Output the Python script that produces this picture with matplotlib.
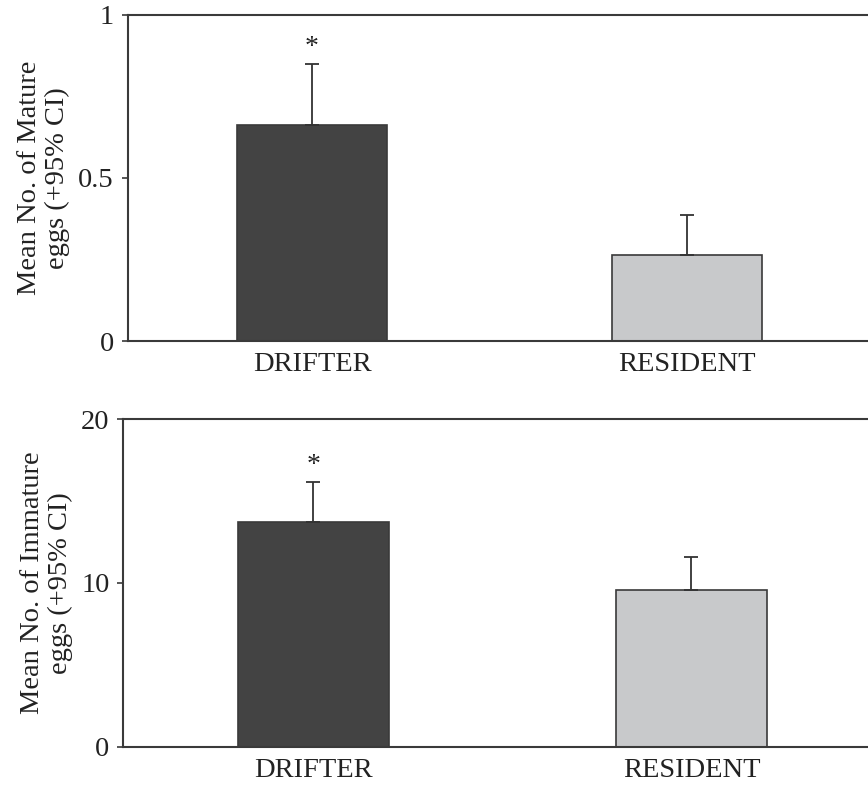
import matplotlib
matplotlib.use("Agg")
import matplotlib.pyplot as plt

plt.rcParams['font.family'] = ['Liberation Serif', 'DejaVu Serif']

categories = ["DRIFTER", "RESIDENT"]
mature_means = [0.663, 0.264]
mature_ci_upper = [0.85, 0.387]
immature_means = [13.71, 9.55]
immature_ci_upper = [16.19, 11.57]
significance = ["*", ""]

bar_colors = ["#434343", "#c8c9cb"]
edge_color = "#3a3a3a"
axis_color = "#3a3a3a"

fig = plt.figure(figsize=(8.68, 7.85), dpi=100)

panels = [
    dict(rect=[0.1471, 0.5656, 0.8529, 0.4153], means=mature_means, upper=mature_ci_upper,
         ylim=(0, 1), yticks=[0, 0.5, 1], yticklabels=["0", "0.5", "1"],
         xlim=(-0.4915, 1.483), ylabel="Mean No. of Mature\neggs (+95% CI)", star_off=0.05),
    dict(rect=[0.1421, 0.0488, 0.8579, 0.4171], means=immature_means, upper=immature_ci_upper,
         ylim=(0, 20), yticks=[0, 10, 20], yticklabels=["0", "10", "20"],
         xlim=(-0.503, 1.467), ylabel="Mean No. of Immature\neggs (+95% CI)", star_off=1.0),
]

for p in panels:
    ax = fig.add_axes(p["rect"])
    x = list(range(len(categories)))
    err_up = [u - m for u, m in zip(p["upper"], p["means"])]
    ax.bar(x, p["means"], width=0.40, color=bar_colors, edgecolor=edge_color,
           linewidth=1.2, zorder=2)
    ax.errorbar(x, p["means"], yerr=[[0] * len(x), err_up], fmt="none",
                ecolor="#333333", elinewidth=1.3, capsize=5, capthick=1.3, zorder=3)
    for xi, u, s in zip(x, p["upper"], significance):
        if s:
            ax.text(xi, u + p["star_off"], s, ha="center", va="center",
                    fontsize=20, color="#222222")
    ax.set_xlim(*p["xlim"])
    ax.set_ylim(*p["ylim"])
    ax.set_yticks(p["yticks"])
    ax.set_yticklabels(p["yticklabels"])
    ax.set_xticks(x)
    ax.set_xticklabels(categories)
    ax.tick_params(axis="x", length=0, pad=8, labelsize=20.5, colors="#222222")
    ax.tick_params(axis="y", length=4, width=1.2, pad=6, labelsize=20.5,
                   colors=axis_color, labelcolor="#222222")
    for side in ["left", "bottom", "top"]:
        ax.spines[side].set_color(axis_color)
        ax.spines[side].set_linewidth(1.5)
    ax.spines["right"].set_visible(False)
    ax.set_ylabel(p["ylabel"], fontsize=20.5, color="#222222", labelpad=6,
                  linespacing=1.12)

fig.savefig("out.png", dpi=100)
